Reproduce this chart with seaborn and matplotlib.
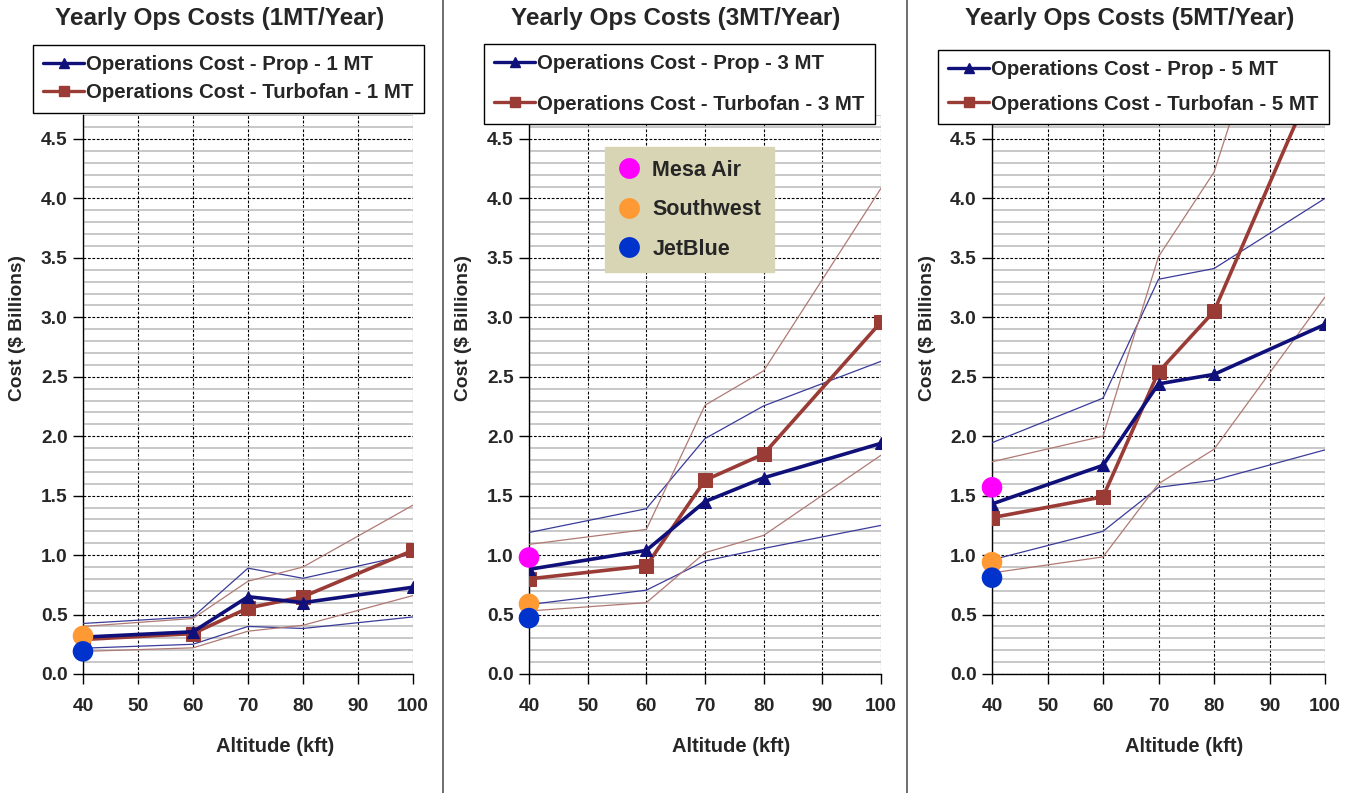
import numpy as np
import pandas as pd
import matplotlib
matplotlib.use("Agg")
import matplotlib.pyplot as plt
import seaborn as sns
from matplotlib.lines import Line2D
from matplotlib.ticker import MultipleLocator

sns.set_theme(style="white")
plt.rcParams['font.family'] = ['Liberation Sans', 'DejaVu Sans']
plt.rcParams['font.weight'] = 'bold'

# ---------------- data ----------------
altitude = [40, 60, 70, 80, 100]
x_ticks = [40, 50, 60, 70, 80, 90, 100]
y_ticks = [0.0, 0.5, 1.0, 1.5, 2.0, 2.5, 3.0, 3.5, 4.0, 4.5]

# 1 MT / year
prop_1 = [0.31, 0.355, 0.65, 0.60, 0.73]
prop_1_hi = [0.425, 0.48, 0.89, 0.805, 1.01]
prop_1_lo = [0.217, 0.25, 0.40, 0.383, 0.48]
turbo_1 = [0.29, 0.34, 0.555, 0.65, 1.04]
turbo_1_hi = [0.40, 0.467, 0.78, 0.90, 1.42]
turbo_1_lo = [0.19, 0.22, 0.36, 0.41, 0.66]
airlines_1 = {"Southwest": 0.32, "JetBlue": 0.19}

# 3 MT / year
prop_3 = [0.88, 1.04, 1.45, 1.65, 1.94]
prop_3_hi = [1.19, 1.39, 1.98, 2.255, 2.63]
prop_3_lo = [0.584, 0.705, 0.95, 1.056, 1.25]
turbo_3 = [0.80, 0.91, 1.63, 1.85, 2.96]
turbo_3_hi = [1.09, 1.216, 2.26, 2.55, 4.085]
turbo_3_lo = [0.53, 0.60, 1.02, 1.166, 1.84]
airlines_3 = {"Mesa Air": 0.98, "Southwest": 0.59, "JetBlue": 0.47}

# 5 MT / year
prop_5 = [1.43, 1.755, 2.44, 2.52, 2.94]
prop_5_hi = [1.945, 2.32, 3.32, 3.41, 4.0]
prop_5_lo = [0.96, 1.20, 1.57, 1.63, 1.885]
turbo_5 = [1.315, 1.49, 2.54, 3.05, 5.2]
turbo_5_hi = [1.785, 2.0, 3.51, 4.22, 7.1]
turbo_5_lo = [0.85, 0.985, 1.60, 1.89, 3.17]
airlines_5 = {"Mesa Air": 1.57, "Southwest": 0.94, "JetBlue": 0.81}

titles = ["Yearly Ops Costs (1MT/Year)", "Yearly Ops Costs (3MT/Year)", "Yearly Ops Costs (5MT/Year)"]
mt_labels = ["1 MT", "3 MT", "5 MT"]
airline_names = ["Mesa Air", "Southwest", "JetBlue"]

# ---------------- styles ----------------
C_PROP = "#10107a"
C_PROP_THIN = "#3b3b9a"
C_TURBO = "#9a3b36"
C_TURBO_THIN = "#b07a74"
AIR_COLORS = {"Mesa Air": "#ff00ff", "Southwest": "#ff9933", "JetBlue": "#0033cc"}

W, H = 1356, 793
fig = plt.figure(figsize=(W / 100, H / 100), dpi=100)

def fx(px):
    return px / W

def fy(py):
    return 1 - py / H

YMAX = 4.7
y0_px = 674
unit_px = 118.9
top_px = y0_px - YMAX * unit_px

panels = [
    dict(left=83, right=413, prop=prop_1, prop_hi=prop_1_hi, prop_lo=prop_1_lo,
         turbo=turbo_1, turbo_hi=turbo_1_hi, turbo_lo=turbo_1_lo, air=airlines_1,
         title_x=220, ylab_x=18, ylab_y=328, xlab_x=275, xlab_y=747,
         leg_left=33, leg_top=45, leg_space=0.45),
    dict(left=529, right=881, prop=prop_3, prop_hi=prop_3_hi, prop_lo=prop_3_lo,
         turbo=turbo_3, turbo_hi=turbo_3_hi, turbo_lo=turbo_3_lo, air=airlines_3,
         title_x=676, ylab_x=463, ylab_y=328, xlab_x=731, xlab_y=747,
         leg_left=484, leg_top=44, leg_space=1.05),
    dict(left=992, right=1325, prop=prop_5, prop_hi=prop_5_hi, prop_lo=prop_5_lo,
         turbo=turbo_5, turbo_hi=turbo_5_hi, turbo_lo=turbo_5_lo, air=airlines_5,
         title_x=1130, ylab_x=927, ylab_y=328, xlab_x=1184, xlab_y=747,
         leg_left=938, leg_top=50, leg_space=0.75),
]

for i, p in enumerate(panels):
    ax = fig.add_axes([fx(p["left"]), fy(y0_px), (p["right"] - p["left"]) / W,
                       (y0_px - top_px) / H])
    ax.set_xlim(40, 100)
    ax.set_ylim(0, YMAX)
    ax.set_facecolor("white")

    # grid
    ax.yaxis.set_minor_locator(MultipleLocator(0.1))
    ax.set_xticks(x_ticks)
    ax.set_yticks(y_ticks)
    ax.grid(which="minor", axis="y", color="#c4c4c4", lw=1.3, ls="-", zorder=0)
    ax.grid(which="major", axis="y", color="black", lw=0.8, ls=(0, (2.5, 1.5)), zorder=1)
    ax.grid(which="major", axis="x", color="black", lw=0.8, ls=(0, (2.5, 1.5)), zorder=1)
    ax.set_axisbelow(True)

    # thin range lines
    for key, col in [("prop_hi", C_PROP_THIN), ("prop_lo", C_PROP_THIN),
                     ("turbo_hi", C_TURBO_THIN), ("turbo_lo", C_TURBO_THIN)]:
        sns.lineplot(x=altitude, y=p[key], ax=ax, color=col, lw=0.9, zorder=3)

    # thick main lines
    sns.lineplot(x=altitude, y=p["turbo"], ax=ax, color=C_TURBO, lw=2.6, marker="s",
                 markersize=10, markeredgecolor=C_TURBO, zorder=4)
    sns.lineplot(x=altitude, y=p["prop"], ax=ax, color=C_PROP, lw=2.6, marker="^",
                 markersize=8.5, markeredgecolor=C_PROP, zorder=5)

    # airline points
    air_df = pd.DataFrame({"name": list(p["air"].keys()),
                           "alt": [40] * len(p["air"]),
                           "cost": list(p["air"].values())})
    sns.scatterplot(data=air_df, x="alt", y="cost", hue="name", palette=AIR_COLORS,
                    s=220, edgecolor="none", ax=ax, zorder=6, clip_on=False, legend=False)

    # spines & ticks
    for s in ["top", "right"]:
        ax.spines[s].set_visible(False)
    for s in ["left", "bottom"]:
        ax.spines[s].set_color("black")
        ax.spines[s].set_linewidth(1.0)
    ax.tick_params(axis="both", which="major", direction="out", length=7, width=1,
                   color="black", left=True, bottom=True)
    ax.tick_params(axis="y", which="minor", left=False)
    ax.tick_params(axis="y", pad=4)
    ax.tick_params(axis="x", pad=10)
    ax.set_yticklabels([f"{v:.1f}" for v in y_ticks], fontweight="bold", fontsize=13.8)
    ax.set_xticklabels([str(t) for t in x_ticks], fontweight="bold", fontsize=13.8)
    ax.set_xlabel("")
    ax.set_ylabel("")

    # legend for main series
    handles = [
        Line2D([], [], color=C_PROP, lw=2.4, marker="^", markersize=7.5),
        Line2D([], [], color=C_TURBO, lw=2.4, marker="s", markersize=7.5),
    ]
    labels = [f"Operations Cost - Prop - {mt_labels[i]}",
              f"Operations Cost - Turbofan - {mt_labels[i]}"]
    ax_w = p["right"] - p["left"]
    ax_h = y0_px - top_px
    leg = ax.legend(handles, labels, loc="upper left",
                    bbox_to_anchor=((p["leg_left"] - p["left"]) / ax_w,
                                    (y0_px - p["leg_top"]) / ax_h),
                    borderaxespad=0, frameon=True, fancybox=False,
                    facecolor="white", edgecolor="black", framealpha=1,
                    prop={"weight": "bold", "size": 14.7}, handlelength=2.0,
                    handletextpad=0.1, labelspacing=p["leg_space"],
                    borderpad=0.5)
    leg.get_frame().set_linewidth(1.0)
    leg.set_zorder(20)

    if i == 1:
        ax.add_artist(leg)
        air_handles = [Line2D([], [], ls="none", marker="o", markersize=15,
                              markerfacecolor=AIR_COLORS[n], markeredgecolor="none")
                       for n in airline_names]
        leg2 = ax.legend(air_handles, airline_names,
                         loc="upper left",
                         bbox_to_anchor=((605 - p["left"]) / ax_w, (y0_px - 147) / ax_h),
                         borderaxespad=0, frameon=True, fancybox=False,
                         facecolor="#d8d5b4", edgecolor="#d8d5b4", framealpha=1,
                         prop={"weight": "bold", "size": 15.5}, handlelength=1.0,
                         handletextpad=0.6, labelspacing=0.85, borderpad=0.6)
        leg2.set_zorder(20)

    # titles and labels
    fig.text(fx(p["title_x"]), fy(18), titles[i], ha="center", va="center",
             fontsize=17.5, fontweight="bold")
    fig.text(fx(p["ylab_x"]), fy(p["ylab_y"]), "Cost ($ Billions)", rotation=90,
             ha="center", va="center", fontsize=13.8, fontweight="bold")
    fig.text(fx(p["xlab_x"]), fy(p["xlab_y"]), "Altitude (kft)", ha="center",
             va="center", fontsize=14.5, fontweight="bold")

# separators
for xs in [443, 907]:
    fig.add_artist(Line2D([fx(xs), fx(xs)], [0, 1], color="#555555", lw=1.2))

fig.savefig("out.png", dpi=100)
